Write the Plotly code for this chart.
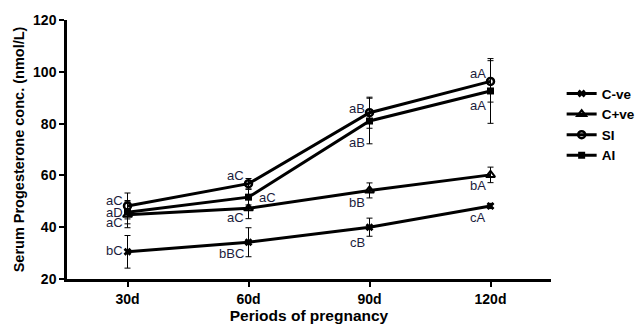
import plotly.graph_objects as go

periods = ["30d", "60d", "90d", "120d"]

cve = [30.5, 34.2, 40.0, 48.2]
cve_err = [6.3, 5.6, 3.5, 1.0]
cve_lbl = ["bC", "bBC", "cB", "cA"]
cve_ly = [31.0, 29.8, 34.1, 43.7]

cpve = [44.8, 47.3, 54.2, 60.2]
cpve_err = [5.0, 4.0, 2.9, 3.0]
cpve_lbl = ["aC", "aC", "bB", "bA"]
cpve_ly = [41.8, 43.7, 49.5, 56.1]

si = [48.2, 56.8, 84.2, 96.3]
si_err = [5.0, 2.0, 6.0, 8.0]
si_lbl = ["aC", "aC", "aB", "aA"]
si_ly = [50.3, 60.0, 85.8, 99.3]

ai = [45.8, 51.6, 81.0, 92.6]
ai_err = [4.5, 3.0, 8.8, 12.5]
ai_lbl = ["aD", "aC", "aB", "aA"]
ai_ly = [45.7, 51.5, 72.7, 87.0]

series = [
    ("C-ve", cve, cve_err, dict(symbol="x", size=7, color="black")),
    ("C+ve", cpve, cpve_err, dict(symbol="triangle-up-open", size=8, color="black", line=dict(width=2, color="black"))),
    ("SI", si, si_err, dict(symbol="circle-open", size=7, color="black", line=dict(width=2.5, color="black"))),
    ("AI", ai, ai_err, dict(symbol="square", size=7, color="black")),
]

fig = go.Figure()
xs = list(range(len(periods)))
for name, vals, errs, mk in series:
    fig.add_trace(go.Scatter(
        x=xs, y=vals, name=name, mode="lines+markers",
        line=dict(color="black", width=3),
        marker=mk,
        error_y=dict(type="data", array=errs, visible=True, color="black", thickness=1, width=3),
    ))

lbl_font = dict(family="Liberation Sans, Arial", size=13, color="#1c1c3c")
for lbls, lys, name in [(cve_lbl, cve_ly, "C-ve"), (cpve_lbl, cpve_ly, "C+ve"), (si_lbl, si_ly, "SI"), (ai_lbl, ai_ly, "AI")]:
    for i, (t, ly) in enumerate(zip(lbls, lys)):
        anchor = "right"
        shift = -3
        if name == "AI" and i == 1:
            anchor = "left"
            shift = 8
        fig.add_annotation(x=i, y=ly, text=t, showarrow=False, xanchor=anchor,
                           yanchor="middle", xshift=shift, font=lbl_font)

axfont = dict(family="Liberation Sans, Arial", size=14, color="black", weight="bold")
fig.update_layout(
    width=644, height=326,
    margin=dict(l=67, r=93, t=20, b=47, autoexpand=False),
    paper_bgcolor="white", plot_bgcolor="white",
    showlegend=True,
    legend=dict(x=1.022, y=0.775, xanchor="left", yanchor="top",
                font=dict(family="Liberation Sans, Arial", size=13.5, color="black", weight="bold"),
                itemwidth=30, bgcolor="rgba(0,0,0,0)"),
    xaxis=dict(range=[-0.5, 3.5], tickvals=xs, ticktext=periods, showline=True, automargin=False,
               linecolor="black", linewidth=2.5, ticks="outside", ticklen=5, tickwidth=2,
               tickcolor="black", showgrid=False, zeroline=False, tickfont=axfont,
               title=dict(text="Periods of pregnancy", font=dict(family="Liberation Sans, Arial", size=15.5, color="black", weight="bold"), standoff=4)),
    yaxis=dict(range=[20, 120], tickvals=[20, 40, 60, 80, 100, 120], showline=True, automargin=False,
               linecolor="black", linewidth=2.5, ticks="outside", ticklen=5, tickwidth=2,
               tickcolor="black", showgrid=False, zeroline=False, tickfont=axfont,
               title=dict(text="Serum Progesterone conc. (nmol/L)", font=dict(family="Liberation Sans, Arial", size=14.5, color="black", weight="bold"), standoff=6)),
)

fig.write_html("out.html")
